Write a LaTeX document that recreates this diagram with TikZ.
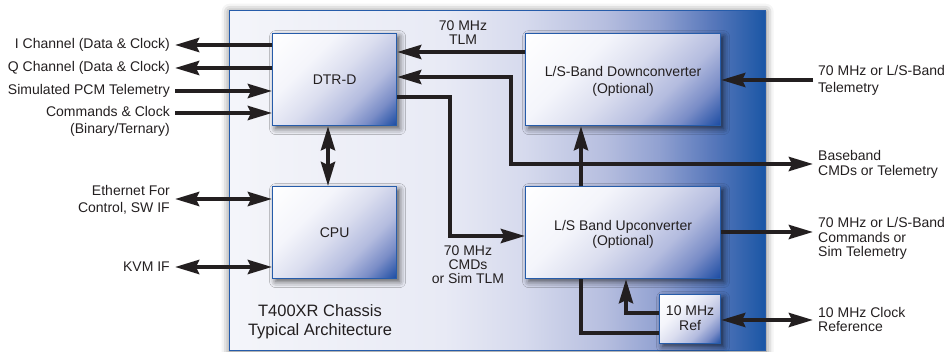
\documentclass[tikz,border=0pt]{standalone}
\usepackage{fontspec}
\setmainfont{Liberation Sans}
\usetikzlibrary{arrows.meta,shadows.blur}
\definecolor{bord}{RGB}{38,92,170}
\definecolor{txt}{RGB}{35,31,32}
\definecolor{cA}{RGB}{244,245,250}
\definecolor{cB}{RGB}{232,234,245}
\definecolor{cC}{RGB}{214,218,237}
\definecolor{cD}{RGB}{182,190,223}
\definecolor{cE}{RGB}{145,161,209}
\definecolor{cF}{RGB}{88,120,187}
\definecolor{cG}{RGB}{26,86,165}
\definecolor{bA}{RGB}{255,255,255}
\definecolor{bB}{RGB}{244,245,251}
\definecolor{bC}{RGB}{219,222,239}
\definecolor{bD}{RGB}{180,188,223}
\definecolor{bE}{RGB}{122,141,199}
\definecolor{bF}{RGB}{28,76,163}
\pgfdeclarehorizontalshading{chassisshade}{100bp}{color(0bp)=(cA); color(25bp)=(cA); color(45bp)=(cB); color(52.5bp)=(cC); color(60bp)=(cD); color(65bp)=(cE); color(70bp)=(cF); color(75bp)=(cG); color(100bp)=(cG)}
\pgfdeclarehorizontalshading{boxshade}{100bp}{color(0bp)=(bA); color(14.6bp)=(bA); color(35.8bp)=(bB); color(50bp)=(bC); color(64.2bp)=(bD); color(74.8bp)=(bE); color(85.4bp)=(bF); color(100bp)=(bF)}
\newcommand\lbl{\fontsize{14}{15.5}\selectfont}
\tikzset{
  chassisbox/.style={draw=bord, line width=1.4pt, shade, shading=chassisshade, anchor=north west, inner sep=0pt,
    blur shadow={shadow xshift=0pt, shadow yshift=-1pt, shadow blur radius=8pt, shadow opacity=60}},
  blk/.style={draw=bord, line width=1.2pt, shade, shading=boxshade, shading angle=-45, anchor=north west,
    inner sep=0pt, align=center, font=\lbl, text=txt,
    blur shadow={shadow xshift=3pt, shadow yshift=-3pt, shadow blur radius=6pt, shadow opacity=65}},
  lab/.style={inner sep=0pt, font=\lbl, text=txt},
  arr/.style={line width=4pt, draw=txt},
  >={Stealth[length=24pt,width=14pt,inset=3pt]}
}
\begin{document}
\begin{tikzpicture}[x=1pt,y=-1pt]
\useasboundingbox (0,0) rectangle (948,352);
% chassis
\node[chassisbox, minimum width=536pt, minimum height=340pt] (ch) at (229,10) {};
% blocks
\node[blk, minimum width=124pt, minimum height=92pt] (dtr) at (272,33) {};
\node[lab] at (dtr.center) {DTR-D};
\node[blk, minimum width=124pt, minimum height=92pt] (cpu) at (272,186) {};
\node[lab] at (cpu.center) {CPU};
\node[blk, minimum width=195pt, minimum height=92pt] (down) at (525,33) {};
\node[lab, align=center] at ([yshift=-2pt]down.center) {L/S-Band Downconverter\\[1pt](Optional)};
\node[blk, minimum width=195pt, minimum height=92pt] (up) at (525,186) {};
\node[lab, align=center] at ([yshift=-2pt]up.center) {L/S Band Upconverter\\(Optional)};
\node[blk, minimum width=61pt, minimum height=49pt] (ref) at (659,294) {};
\node[lab, align=center] at ([yshift=1pt]ref.center) {10 MHz\\Ref};
% chassis title
\node[lab, align=center, font=\fontsize{16.5}{19}\selectfont] (title) at (320,321.5) {T400XR Chassis\\Typical Architecture};
% free ends
\coordinate (iL) at (175,45);
\coordinate (qL) at (175,68);
\coordinate (pL) at (175,91);
\coordinate (cL) at (175,113);
\coordinate (eL) at (175,199);
\coordinate (kL) at (175,267);
\coordinate (dcx) at (328,0);
\coordinate (tlm) at (0,52);
\coordinate (bbA) at (511,77);
\coordinate (bbB) at (511,164);
\coordinate (bbR) at (813,164);
\coordinate (cmA) at (450,97);
\coordinate (cmB) at (450,236);
\coordinate (vx) at (581,0);
\coordinate (dnR) at (813,80);
\coordinate (upR) at (813,232);
\coordinate (rfR) at (813,320);
\coordinate (rfA) at (626,313);
\coordinate (rfB) at (581,333);
% left connectors
\draw[arr, ->] (dtr.west |- iL) -- (iL);
\draw[arr, ->] (dtr.west |- qL) -- (qL);
\draw[arr, ->] (pL) -- (dtr.west |- pL);
\draw[arr, ->] (cL) -- (dtr.west |- cL);
\draw[arr, <->] (eL) -- (cpu.west |- eL);
\draw[arr, <->] (kL) -- (cpu.west |- kL);
\draw[arr, <->] (dtr.south -| dcx) -- (cpu.north -| dcx);
% inner connectors
\draw[arr, ->] (down.west |- tlm) -- (dtr.east |- tlm);
\draw[arr, <->] (dtr.east |- bbA) -- (bbA) -- (bbB) -- (bbR);
\draw[arr, ->] (dtr.east |- cmA) -- (cmA) -- (cmB) -- (up.west |- cmB);
\draw[arr, ->] (up.north -| vx) -- (down.south -| vx);
\draw[arr, ->] (dnR) -- (down.east |- dnR);
\draw[arr, ->] (up.east |- upR) -- (upR);
\draw[arr, <->] (ref.east |- rfR) -- (rfR);
\draw[arr, ->] (ref.west |- rfA) -- (rfA) -- (up.south -| rfA);
\draw[arr] (ref.west |- rfB) -- (rfB) -- (up.south -| rfB);
% left labels
\node[lab, anchor=east] (l1) at (170,45) {I Channel (Data \& Clock)};
\node[lab, anchor=east] (l2) at (170,68) {Q Channel (Data \& Clock)};
\node[lab, anchor=east] (l3) at (170,91) {Simulated PCM Telemetry};
\node[lab, anchor=east, align=right] (l4) at (170,121.5) {Commands \& Clock\\[1.5pt](Binary/Ternary)};
\node[lab, anchor=east, align=right] (l5) at (170,199.5) {Ethernet For\\[1.5pt]Control, SW IF};
\node[lab, anchor=east] (l6) at (170,267) {KVM IF};
% middle labels
\node[lab, align=center] (m1) at (463,33) {70 MHz\\[-1.5pt]TLM};
\node[lab, align=center] (m2) at (468,265) {70 MHz\\[-1.5pt]CMDs\\[-1.5pt]or Sim TLM};
% right labels
\node[lab, anchor=west, align=left] (r1) at (818,80.5) {70 MHz or L/S-Band\\[1.5pt]Telemetry};
\node[lab, anchor=west, align=left] (r2) at (818,164.5) {Baseband\\[-0.5pt]CMDs or Telemetry};
\node[lab, anchor=west, align=left] (r3) at (818,238.5) {70 MHz or L/S-Band\\[-1pt]Commands or\\[-1pt]Sim Telemetry};
\node[lab, anchor=west, align=left] (r4) at (818,319.5) {10 MHz Clock\\[-1.5pt]Reference};
\end{tikzpicture}
\end{document}
